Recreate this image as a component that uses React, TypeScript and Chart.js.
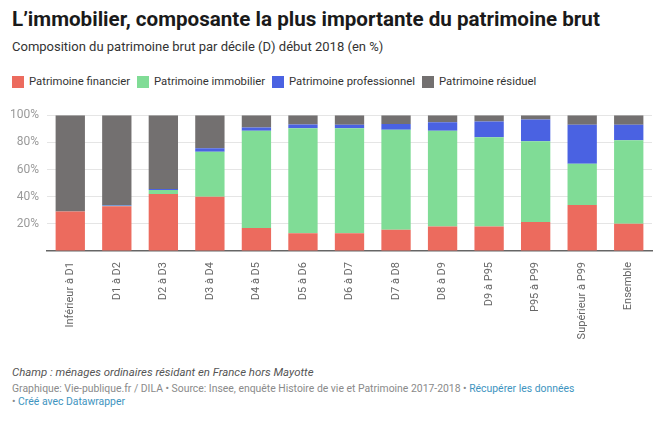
import React, { useEffect, useRef } from "react";
import { Chart, registerables } from "chart.js";

Chart.register(...registerables);

const categories = [
  "Inférieur à D1", "D1 à D2", "D2 à D3", "D3 à D4", "D4 à D5", "D5 à D6", "D6 à D7",
  "D7 à D8", "D8 à D9", "D9 à P95", "P95 à P99", "Supérieur à P99", "Ensemble",
];
const financier = [29, 33, 42, 40, 17, 13, 13, 15.7, 18, 18, 21.3, 33.8, 20];
const immobilier = [0, 0.3, 3, 33, 71.5, 77.4, 77.4, 73.5, 70.5, 65.8, 59.6, 30.4, 61.6];
const professionnel = [0, 0.5, 0.6, 2.7, 2.5, 2.8, 2.5, 4.4, 6.4, 11.6, 15.9, 28.7, 11.3];
const residuel = [71, 66.2, 54.4, 24.3, 9, 6.8, 7.1, 6.4, 5.1, 4.6, 3.2, 7.1, 7.1];
const yTicks = [0, 20, 40, 60, 80, 100];

const seriesNames = ["Patrimoine financier", "Patrimoine immobilier", "Patrimoine professionnel", "Patrimoine résiduel"];
const seriesColors = ["#ec6b5e", "#80dc96", "#4a62e2", "#737070"];
const seriesData = [financier, immobilier, professionnel, residuel];

const FONT = "Roboto, 'Noto Sans', sans-serif";

export default function App() {
  const ref = useRef<HTMLCanvasElement>(null);
  useEffect(() => {
    if (!ref.current) return;
    const chart = new Chart(ref.current, {
      type: "bar",
      data: {
        labels: categories,
        datasets: seriesData.map((d, i) => ({
          label: seriesNames[i],
          data: d,
          backgroundColor: seriesColors[i],
          borderWidth: 0,
          categoryPercentage: 1,
          barPercentage: 0.63,
        })),
      },
      options: {
        animation: false,
        responsive: false,
        maintainAspectRatio: false,
        layout: { padding: { top: 15, right: 2, left: 0, bottom: 0 } },
        plugins: { legend: { display: false }, tooltip: { enabled: false } },
        scales: {
          x: {
            stacked: true,
            grid: { display: false, drawTicks: false },
            border: { display: true, color: "#666", width: 1.5 },
            ticks: {
              autoSkip: false,
              minRotation: 90,
              maxRotation: 90,
              padding: 11,
              color: "#666",
              font: { family: FONT, size: 11 },
            },
            afterFit: (s: any) => { s.height = 99; },
          },
          y: {
            stacked: true,
            min: 0,
            max: 100,
            afterBuildTicks: (s: any) => { s.ticks = yTicks.map((v) => ({ value: v })); },
            grid: {
              drawTicks: false,
              color: (c: any) => (c.tick && c.tick.value === 0 ? "rgba(0,0,0,0)" : "#e5e5e5"),
              lineWidth: 1,
            },
            border: { display: false },
            ticks: {
              padding: 8,
              color: "#9a9a9a",
              font: { family: FONT, size: 12 },
              callback: (v: any) => (v === 0 ? "" : v + "%"),
            },
            afterFit: (s: any) => { s.width = 47; },
          },
        },
      },
    });
    return () => chart.destroy();
  }, []);

  const abs = (o: React.CSSProperties): React.CSSProperties => ({ position: "absolute", margin: 0, whiteSpace: "nowrap", ...o });

  return (
    <div style={{ position: "fixed", left: 0, top: 0, width: 654, height: 423, background: "#fff", fontFamily: FONT, overflow: "hidden" }}>
      <div style={abs({ left: 12, top: 7, fontSize: 20.6, lineHeight: "24px", fontWeight: 700, color: "#1a1a1a" })}>
        L’immobilier, composante la plus importante du patrimoine brut
      </div>
      <div style={abs({ left: 12, top: 38, fontSize: 13, lineHeight: "18px", color: "#333" })}>
        Composition du patrimoine brut par décile (D) début 2018 (en %)
      </div>
      <div style={abs({ left: 12, top: 74, display: "flex", alignItems: "center", fontSize: 11.3, lineHeight: "16px", color: "#333" })}>
        {seriesNames.map((n, i) => (
          <div key={n} style={{ display: "flex", alignItems: "center", marginRight: 7 }}>
            <span style={{ display: "inline-block", width: 12, height: 12, background: seriesColors[i], marginRight: 5 }} />
            <span>{n}</span>
          </div>
        ))}
      </div>
      <canvas ref={ref} width={654} height={250} style={{ position: "absolute", left: 0, top: 100, width: 654, height: 250 }} />
      <div style={abs({ left: 12, top: 364, fontSize: 11.4, lineHeight: "16px", fontStyle: "italic", color: "#555" })}>
        Champ : ménages ordinaires résidant en France hors Mayotte
      </div>
      <div style={abs({ left: 12, top: 382, fontSize: 10.4, lineHeight: "14px", color: "#8a8a8a" })}>
        Graphique: Vie-publique.fr / DILA • Source: Insee, enquête Histoire de vie et Patrimoine 2017-2018 • <span style={{ color: "#3e94c0" }}>Récupérer les données</span>
      </div>
      <div style={abs({ left: 12, top: 395, fontSize: 10.4, lineHeight: "14px", color: "#8a8a8a" })}>
        • <span style={{ color: "#3e94c0" }}>Créé avec Datawrapper</span>
      </div>
    </div>
  );
}
